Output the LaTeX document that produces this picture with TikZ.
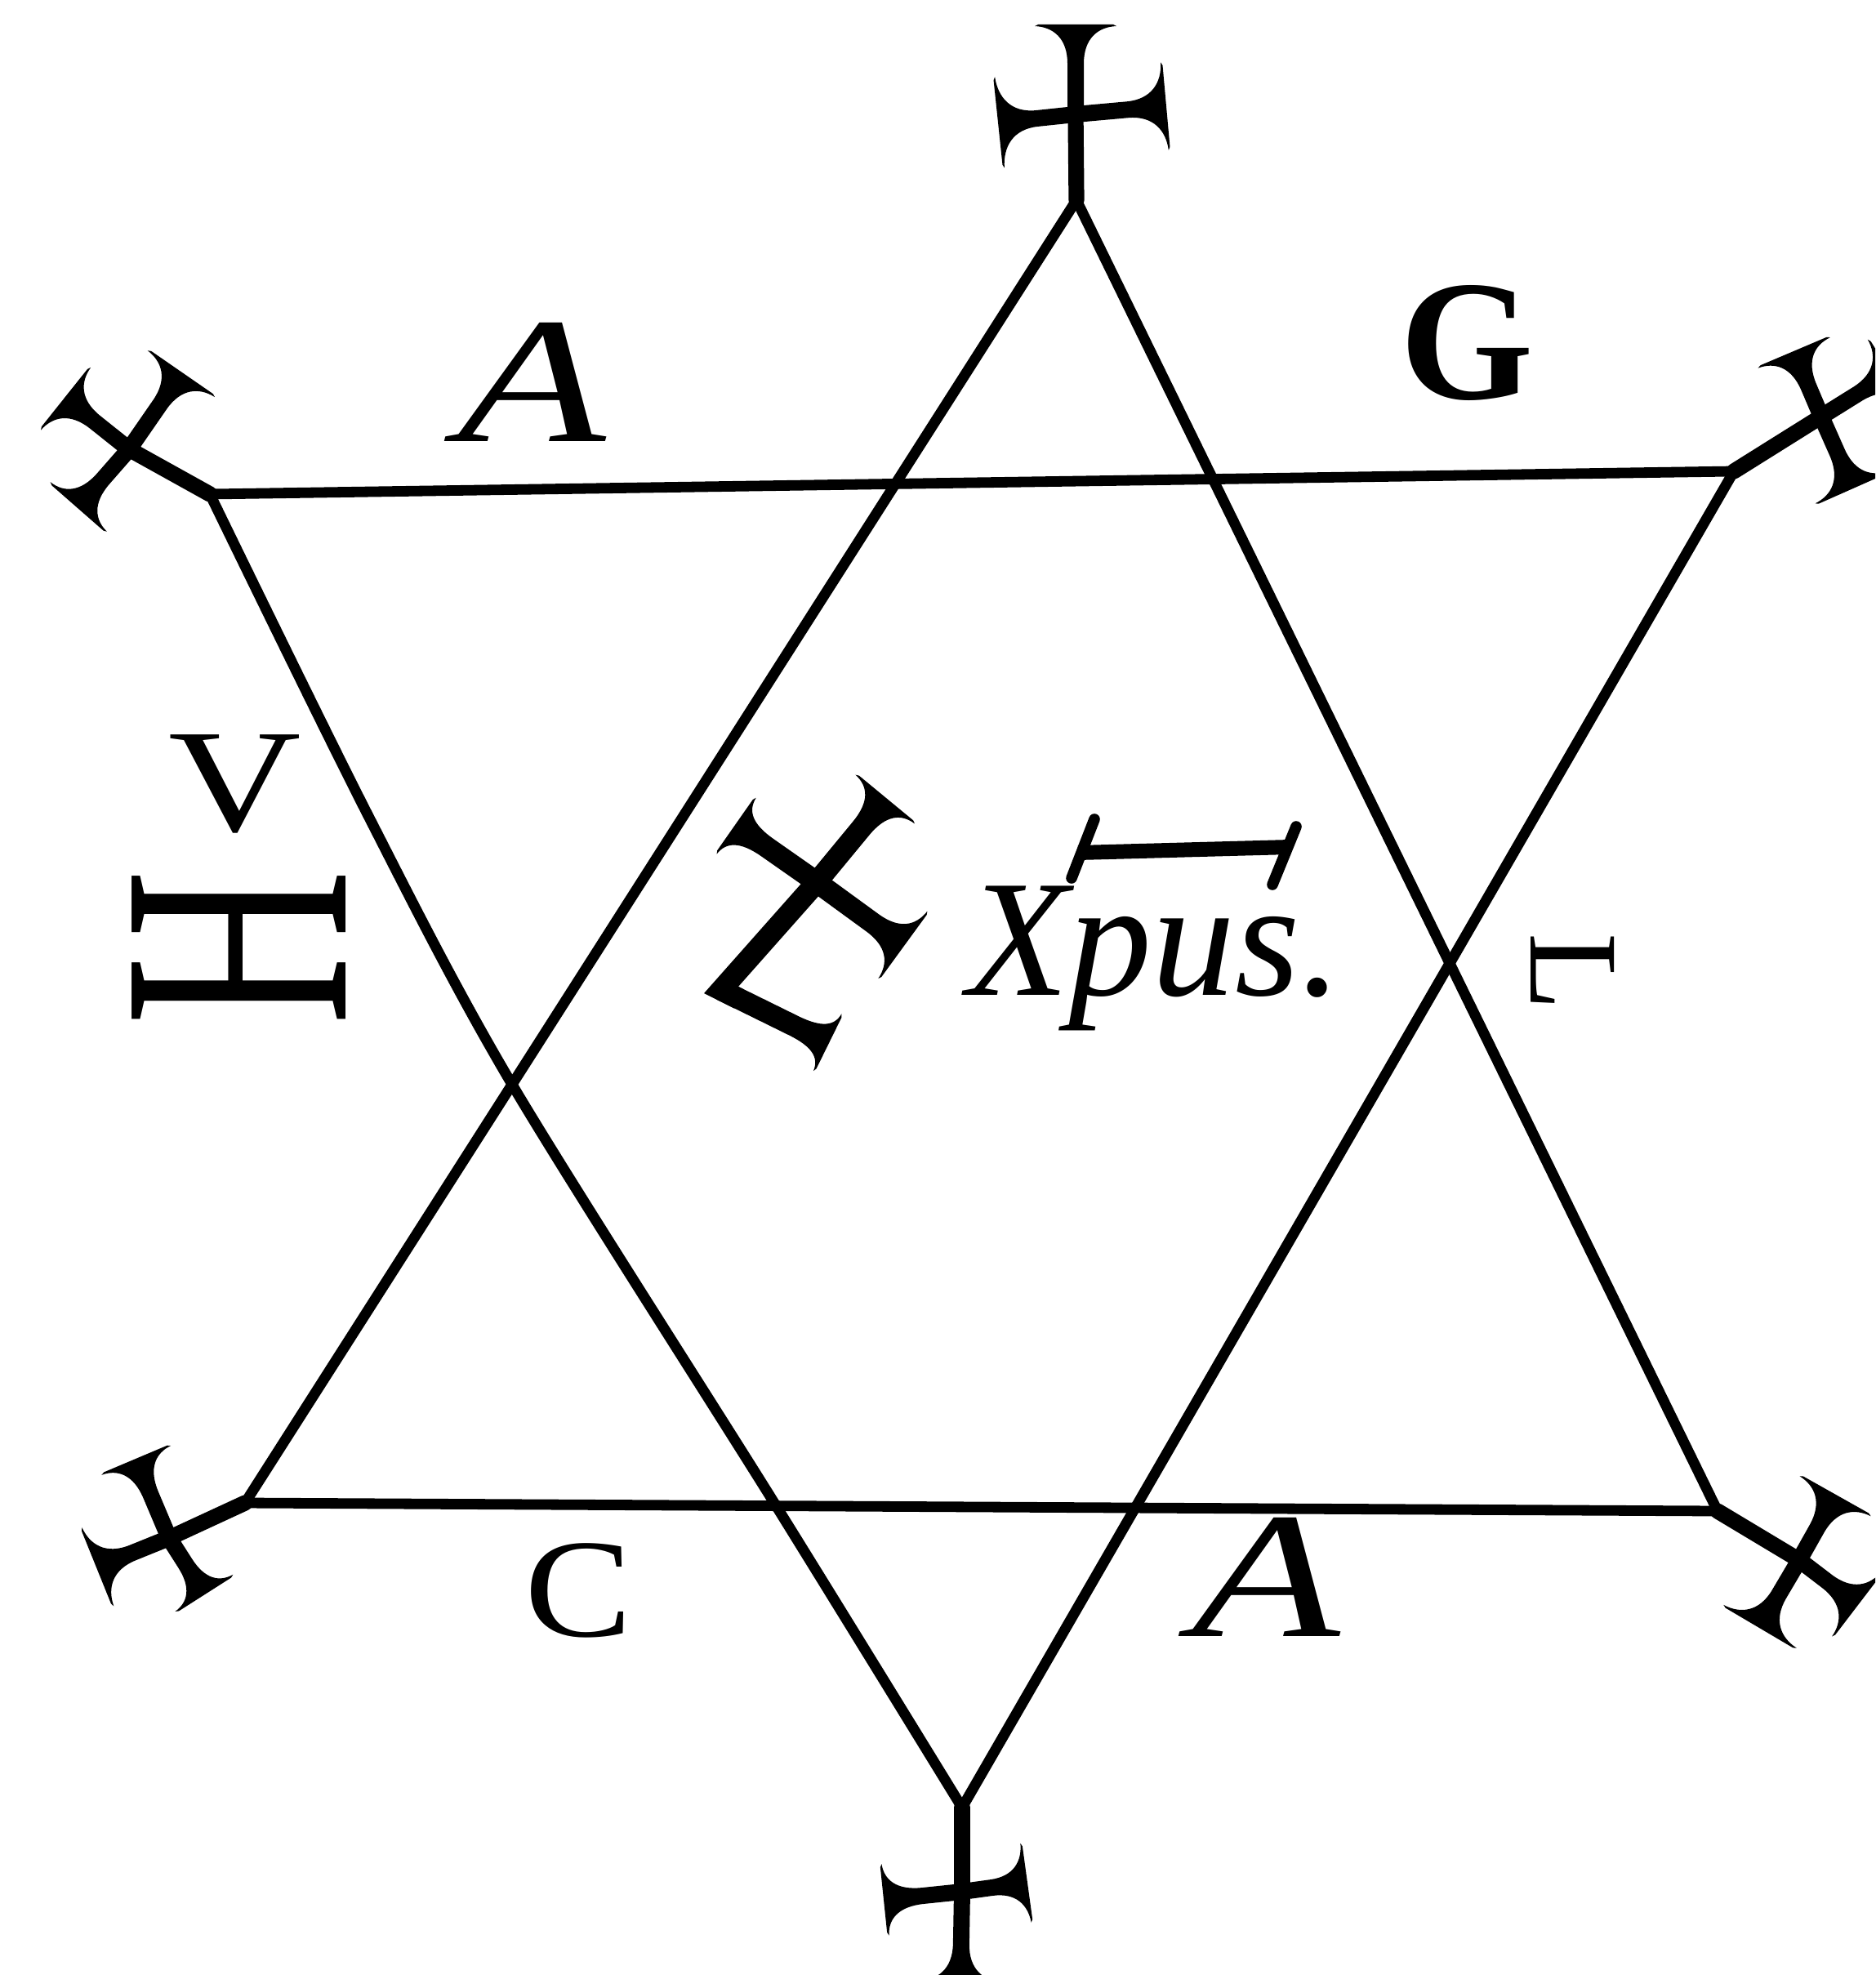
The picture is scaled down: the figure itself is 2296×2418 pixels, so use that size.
\documentclass[tikz,border=0pt]{standalone}
\usepackage{fontspec}
\usepackage{graphicx}
\setmainfont{Liberation Serif}
\usetikzlibrary{calc}

\def\armh{10}
\newcommand{\flarearm}[5][50]{%
  \pgfmathsetmacro\faang{atan2((#3)-(#5),(#4)-(#2))}%
  \pgfmathsetmacro\falen{veclen((#4)-(#2),(#5)-(#3))}%
  \pgfmathsetmacro\faf{min(48,0.55*\falen)}%
  \begin{scope}[shift={(#2,#3)},rotate=\faang]
    \fill (0,-\armh) -- ({\falen-\faf},-\armh)
      .. controls ({\falen-0.35*\faf},-\armh) and ({\falen-3},{-0.55*#1}) .. ({\falen-2},-#1)
      -- (\falen,{-#1+4}) -- (\falen,{#1-4}) -- ({\falen-2},#1)
      .. controls ({\falen-3},{0.55*#1}) and ({\falen-0.35*\faf},\armh) .. ({\falen-\faf},\armh)
      -- (0,\armh) -- cycle;
  \end{scope}}

\tikzset{
  starline/.style={line width=3.2pt, line cap=round, line join=round},
  armline/.style={line width=4.8pt, line cap=round},
  lettr/.style={inner sep=0pt, outer sep=0pt},
}

\begin{document}
\begin{tikzpicture}[x=0.25pt,y=-0.25pt]
\path[use as bounding box] (0,0) rectangle (2296,2418);
\fill[white] (0,0) rectangle (2296,2418);
\clip (0,0) rectangle (2296,2418);

% vertices of the star
\coordinate (T)  at (1318,245);
\coordinate (LL) at (300,1840);
\coordinate (LR) at (2103,1850);
\coordinate (UL) at (257,605);
\coordinate (UR) at (2123,577);
\coordinate (B)  at (1178,2213);
\coordinate (XL) at (626,1326);

% star lines
\draw[starline] (T) -- (LL);
\draw[starline] (T) -- (LR);
\draw[starline] (LL) -- (LR);
\draw[starline] (UL) -- (UR);
\draw[starline] plot[smooth,tension=0.5] coordinates {(UL) (450,997) (XL) (948,1840) (B)};
\draw[starline] (UR) -- (B);

% top cross
\coordinate (cT) at (1317,140);
\flarearm[56]{1317}{140}{1222}{150}
\flarearm[54]{1317}{140}{1428}{130}
\flarearm[50]{1317}{140}{1317}{30}
\draw[armline] (cT) -- (T);

% bottom cross
\coordinate (cB) at (1178,2316);
\flarearm[44]{1178}{2316}{1082}{2326}
\flarearm[49]{1178}{2316}{1258}{2305}
\flarearm[52]{1178}{2316}{1176}{2428}
\draw[armline] (cB) -- (B);

% upper left cross
\coordinate (cUL) at (158,550);
\flarearm[49]{158}{550}{79}{487}
\flarearm[50]{158}{550}{223}{456}
\flarearm[46]{158}{550}{95}{622}
\draw[armline] (cUL) -- (UL);

% upper right cross
\coordinate (cUR) at (2230,510);
\flarearm[48]{2230}{510}{2196}{430}
\flarearm[50]{2230}{510}{2315}{457}
\flarearm[50]{2230}{510}{2269}{598}
\draw[armline] (cUR) -- (UR);

% lower left cross
\coordinate (cLL) at (207,1883);
\flarearm[46]{207}{1883}{166}{1786}
\flarearm[52]{207}{1883}{118}{1919}
\flarearm[42]{207}{1883}{251}{1952}
\draw[armline] (cLL) -- (LL);

% lower right cross
\coordinate (cLR) at (2203,1910);
\flarearm[50]{2203}{1910}{2248}{1830}
\flarearm[50]{2203}{1910}{2275}{1965}
\flarearm[52]{2203}{1910}{2154}{1993}
\draw[armline] (cLR) -- (LR);

% central cross
{\def\armh{13}
\coordinate (cC) at (1000,1080);
\coordinate (cK) at (883,1212);
\flarearm[47]{1000}{1080}{1085}{977}
\flarearm[42]{1000}{1080}{900}{1010}
\flarearm[51]{1000}{1080}{1107}{1158}
\draw[line width=6.5pt, line join=miter] (cC) -- (cK) -- (905,1223);
\flarearm[39]{883}{1212}{1015}{1277}
}

% letters
\node[lettr] (A1) at (651,468) {\fontsize{55}{55}\selectfont\scalebox{1.35}[1]{\itshape A}};
\node[lettr] (G) at (1796,420) {\fontsize{52.5}{52.5}\selectfont\bfseries G};
\node[lettr, rotate=-90] (L) at (1926,1190) {\fontsize{39}{39}\selectfont L};
\node[lettr] (A2) at (1550,1931) {\fontsize{55}{55}\selectfont\scalebox{1.35}[1]{\itshape A}};
\node[lettr] (C) at (708,1947) {\fontsize{43}{43}\selectfont\scalebox{1.15}[1]{C}};
\node[lettr] (V) at (288,960) {\fontsize{45}{45}\selectfont\scalebox{1.25}[1]{V}};
\node[lettr, rotate=90] (H) at (293,1160) {\scalebox{0.66}[1]{\fontsize{100}{100}\selectfont H}};
\node[lettr, anchor=base west] (X) at (1184,1218) {\fontsize{51}{51}\selectfont\itshape Xpus.};

% suspension mark over "pus"
\coordinate (m1) at (1320,1044);
\coordinate (m2) at (1580,1037);
\draw[line width=4.5pt] (m1) -- (m2);
\draw[line width=3.4pt, line cap=round] (1340,1003) -- (1312,1075);
\draw[line width=3.4pt, line cap=round] (1587,1012) -- (1558,1083);
\end{tikzpicture}
\end{document}
